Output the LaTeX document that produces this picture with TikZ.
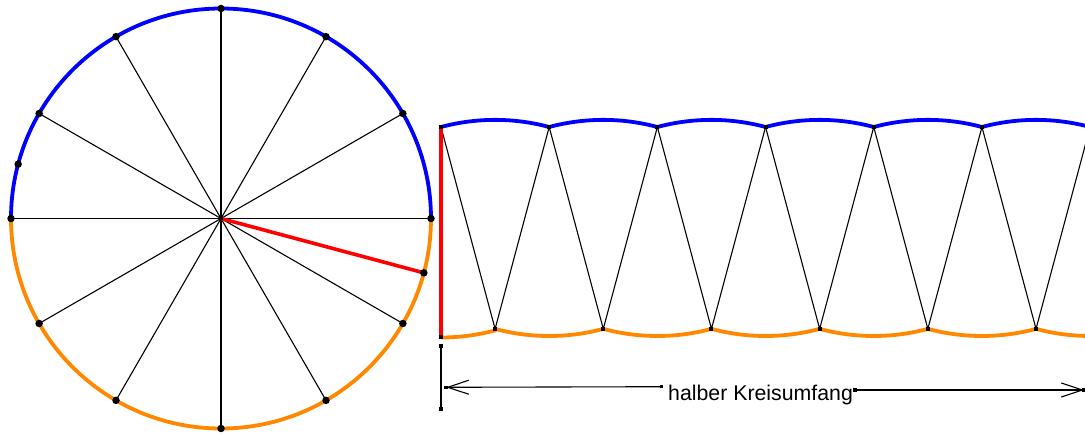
\documentclass[tikz,border=0pt]{standalone}
\usepackage{fontspec}
\setmainfont{Liberation Sans}
\usetikzlibrary{arrows.meta,calc}
\definecolor{arcblue}{RGB}{0,0,255}
\definecolor{arcorange}{RGB}{255,136,0}
\definecolor{radred}{RGB}{255,0,0}
\tikzset{
  thinline/.style={black, line width=1.1pt},
  bluearc/.style={arcblue, line width=3.8pt},
  orangearc/.style={arcorange, line width=3.8pt, line cap=round},
  redline/.style={radred, line width=3.6pt},
  rdot/.style={fill=black, circle, inner sep=0pt, minimum size=7.5pt},
  sdot/.style={fill=black, rectangle, inner sep=0pt, minimum size=4pt},
  dimarrow/.style={black, line width=1.1pt, -{Straight Barb[length=21pt,width=14pt,line width=1.1pt]}},
}
\begin{document}
\begin{tikzpicture}[x=1pt,y=1pt]
\useasboundingbox (0,0) rectangle (1085,434);
\clip (0,0) rectangle (1085,434);
% ---------- circle ----------
\coordinate (C) at (221,215.5);
\def\R{210}
\foreach \a in {0,30,...,330} {
  \coordinate (P\a) at ($(C)+(\a:\R)$);
}
\foreach \a in {0,30,...,330} \draw[thinline] (C) -- (P\a);
\draw[bluearc] (P0) arc (0:180:\R);
\draw[orangearc] (P180) arc (180:360:\R);
\coordinate (Q165) at ($(C)+(165:\R)$);
\coordinate (Q345) at ($(C)+(-15:\R)$);
\draw[redline] (C) -- (Q345);
\foreach \a in {0,30,...,330} \node[rdot] at (P\a) {};
\node[rdot] at (Q165) {};
\node[rdot] at (Q345) {};
\node[sdot] at (C) {};
% ---------- strip ----------
\def\Rs{209}
\pgfmathsetmacro\w{2*\Rs*sin(15)}
\pgfmathsetmacro\h{\Rs*cos(15)}
\foreach \k in {0,...,7} {
  \coordinate (T\k) at ({441+\k*\w},307);
  \coordinate (B\k) at ({441+(\k+0.5)*\w},{307-\h});
}
\coordinate (L) at (441,{307-\Rs-1.5});
% upper sectors (blue arcs)
\foreach \k in {0,...,6} \draw[bluearc] (T\k) arc (105:75:\Rs);
% lower sectors (orange arcs)
\draw[orangearc] (L) arc (-90:-75:{\Rs+1.5});
\foreach \k in {0,...,6} \draw[orangearc] (B\k) arc (-105:-75:\Rs);
% zigzag
\foreach \k [evaluate=\k as \n using int(\k+1)] in {0,...,6} {
  \draw[thinline] (T\k) -- (B\k) -- (T\n);
}
\draw[redline] (T0) -- (L);
\foreach \k in {0,...,7} { \node[sdot] at (T\k) {}; \node[sdot] at (B\k) {}; }
\node[sdot] at (L) {};
% ---------- dimension ----------
\coordinate (E1) at (441,88.3);
\coordinate (E2) at (441,24.7);
\draw[thinline] (E1) -- (E2);
\node[sdot] at (E1) {};
\node[sdot] at (E2) {};
\coordinate (A1) at (446,46.7);
\coordinate (D1) at (661.5,47.3);
\coordinate (D2) at (855,44);
\coordinate (A2) at (1084,44);
\draw[dimarrow] (D1) -- (A1);
\draw[dimarrow] (D2) -- (A2);
\node[sdot, minimum size=3.5pt] at (A1) {};
\node[sdot, minimum size=3.5pt] at (A2) {};
\node[sdot, minimum size=3.5pt] at (D1) {};
\node[sdot, minimum size=3.5pt] at (D2) {};
\node[anchor=base west, inner sep=0pt, font=\fontsize{21.3}{24}\selectfont] (lbl) at (668,34) {halber Kreisumfang};
\end{tikzpicture}
\end{document}
